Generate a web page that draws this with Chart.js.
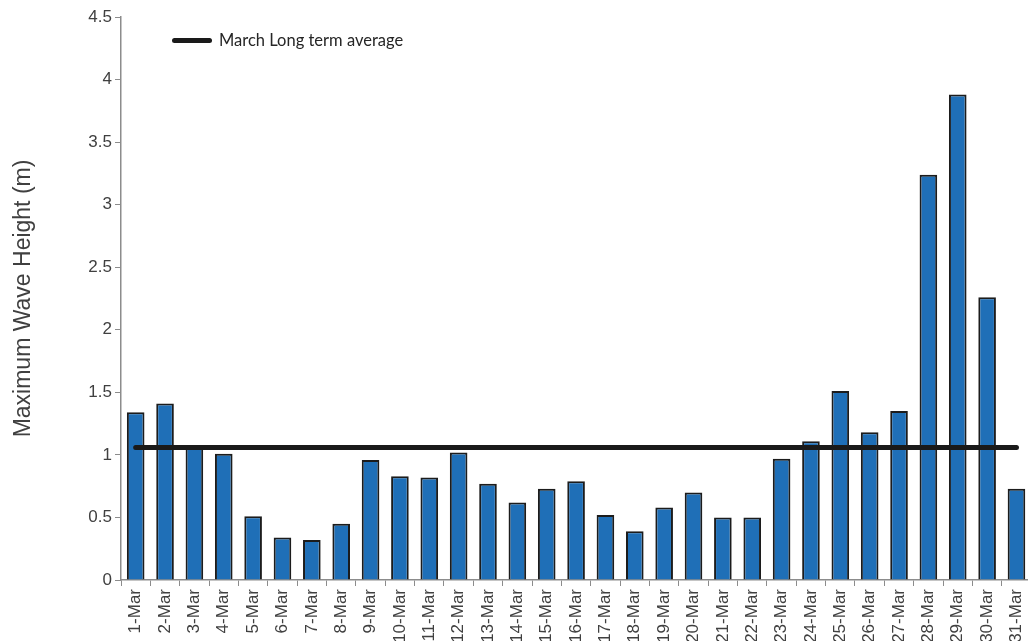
<!DOCTYPE html>
<html>
<head>
<meta charset="utf-8">
<script src="https://cdn.jsdelivr.net/npm/chart.js@4/dist/chart.umd.min.js"></script>
<style>
html,body{margin:0;padding:0;background:#fff;overflow:hidden;width:1028px;height:641px;}
#wrap{position:absolute;left:0;top:0;width:1040px;height:680px;}
#legend{position:absolute;left:172px;top:30px;font-family:Lato,"Liberation Sans",sans-serif;font-size:16.5px;color:#262626;display:flex;align-items:center;white-space:nowrap;}
#legend .ln{display:inline-block;width:40px;height:5px;background:#1a1a1a;border-radius:3px;margin-right:7px;}
</style>
</head>
<body>
<div id="wrap"><canvas id="c" width="1040" height="680"></canvas></div>
<div id="legend"><span class="ln"></span><span>March Long term average</span></div>
<script>
const categories = ["1-Mar","2-Mar","3-Mar","4-Mar","5-Mar","6-Mar","7-Mar","8-Mar","9-Mar","10-Mar","11-Mar","12-Mar","13-Mar","14-Mar","15-Mar","16-Mar","17-Mar","18-Mar","19-Mar","20-Mar","21-Mar","22-Mar","23-Mar","24-Mar","25-Mar","26-Mar","27-Mar","28-Mar","29-Mar","30-Mar","31-Mar"];
const maxWaveHeight = [1.34,1.41,1.08,1.01,0.51,0.34,0.32,0.45,0.96,0.83,0.82,1.02,0.77,0.62,0.73,0.79,0.52,0.39,0.58,0.70,0.50,0.50,0.97,1.11,1.51,1.18,1.35,3.24,3.88,2.26,0.73];
const marchLongTermAverage = [1.06,1.06,1.06,1.06,1.06,1.06,1.06,1.06,1.06,1.06,1.06,1.06,1.06,1.06,1.06,1.06,1.06,1.06,1.06,1.06,1.06,1.06,1.06,1.06,1.06,1.06,1.06,1.06,1.06,1.06,1.06];
const yTicks = [0,0.5,1,1.5,2,2.5,3,3.5,4,4.5];

const axisColor = '#8c8c8c';
const textColor = '#404040';

new Chart(document.getElementById('c'), {
  type: 'bar',
  data: {
    labels: categories,
    datasets: [
      {
        type: 'line',
        label: 'March Long term average',
        data: marchLongTermAverage,
        borderColor: '#1a1a1a',
        borderWidth: 5,
        borderCapStyle: 'round',
        pointRadius: 0,
        fill: false,
        order: 0
      },
      {
        label: 'Maximum Wave Height',
        data: maxWaveHeight,
        backgroundColor: '#1f6fb7',
        borderColor: '#1c1c1c',
        borderWidth: 2,
        barPercentage: 0.6,
        categoryPercentage: 1.0,
        order: 1
      }
    ]
  },
  options: {
    responsive: false,
    animation: false,
    devicePixelRatio: 1,
    layout: { padding: { left: 10, right: 8, top: 17, bottom: 0 } },
    plugins: { legend: { display: false }, tooltip: { enabled: false } },
    scales: {
      x: {
        afterFit: (s) => { s.height = 100; },
        grid: { display: true, drawOnChartArea: false, drawTicks: true, tickLength: 6, color: axisColor, offset: true },
        border: { display: true, color: axisColor, width: 1.5 },
        ticks: { color: textColor, font: { family: 'Liberation Sans, Arial', size: 17 }, minRotation: 90, maxRotation: 90, autoSkip: false, padding: 3 }
      },
      y: {
        min: 0, max: 4.5,
        afterBuildTicks: (s) => { s.ticks = yTicks.map(v => ({ value: v })); },
        afterFit: (s) => { s.width = 111; },
        grid: { display: true, drawOnChartArea: false, drawTicks: true, tickLength: 6, color: axisColor },
        border: { display: true, color: axisColor, width: 1.5 },
        ticks: { color: textColor, font: { family: 'Liberation Sans, Arial', size: 17 }, padding: 3, callback: (v) => String(v) },
        title: { display: true, text: 'Maximum Wave Height (m)', color: textColor, font: { family: 'Liberation Sans, Arial', size: 23 }, padding: { top: 0, bottom: 10 } }
      }
    }
  }
});
</script>
</body>
</html>
